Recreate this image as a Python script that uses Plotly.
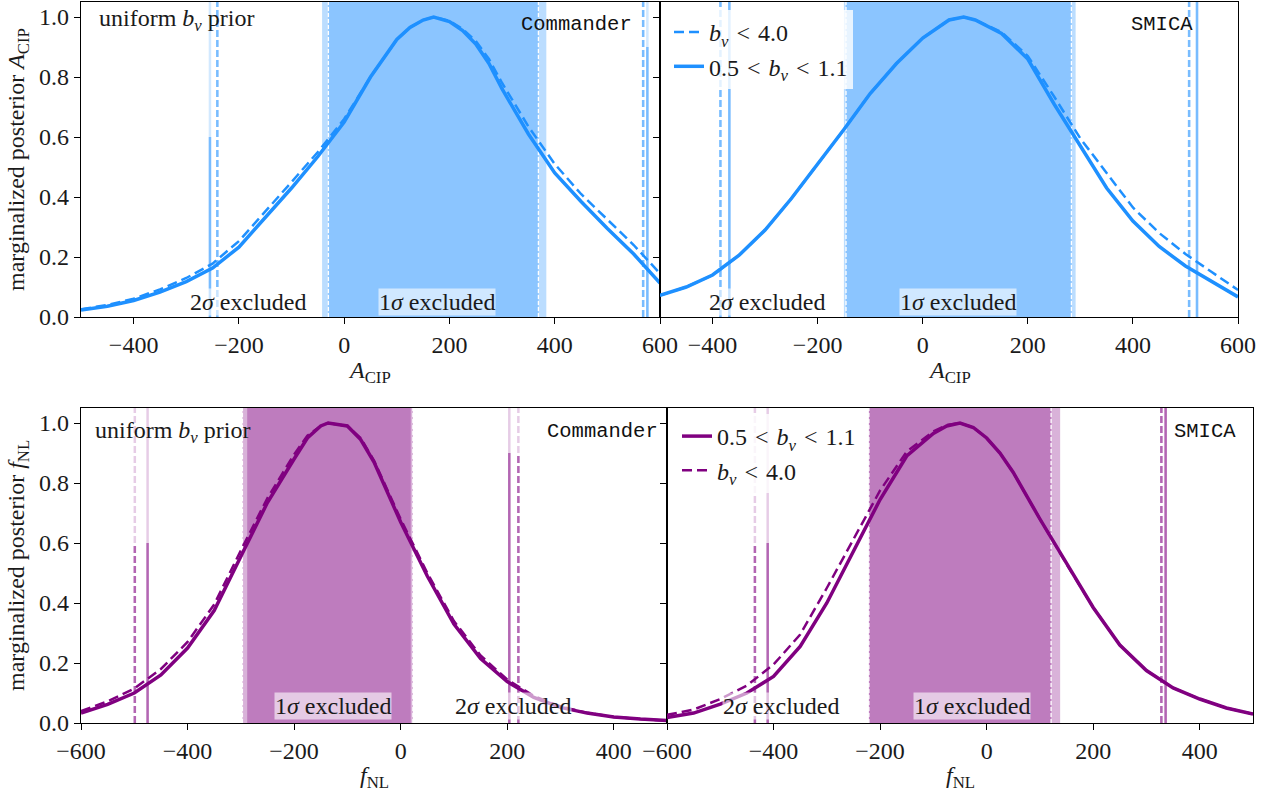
import plotly.graph_objects as go

# ---------------- data ----------------
# Top-left: A_CIP, Commander
TL_x = [-500, -450, -400, -350, -300, -250, -200, -150, -100, -50, 0, 50, 100, 125, 150, 170, 200, 225, 250, 275, 300, 350, 400, 450, 500, 550, 600]
TL_solid = [0.023, 0.036, 0.055, 0.083, 0.118, 0.163, 0.233, 0.33, 0.43, 0.535, 0.65, 0.80, 0.925, 0.965, 0.99, 1.0, 0.985, 0.955, 0.91, 0.845, 0.76, 0.61, 0.48, 0.385, 0.295, 0.21, 0.113]
TL_dashed = [0.026, 0.040, 0.061, 0.092, 0.13, 0.178, 0.253, 0.35, 0.45, 0.55, 0.66, 0.80, 0.925, 0.965, 0.99, 1.0, 0.987, 0.96, 0.92, 0.86, 0.78, 0.635, 0.51, 0.41, 0.325, 0.24, 0.145]

# Top-right: A_CIP, SMICA
TR_x = [-500, -450, -400, -350, -300, -250, -200, -150, -100, -50, 0, 50, 78, 100, 150, 200, 250, 300, 350, 400, 450, 500, 550, 600]
TR_solid = [0.072, 0.10, 0.14, 0.205, 0.29, 0.395, 0.51, 0.625, 0.745, 0.845, 0.93, 0.99, 1.0, 0.99, 0.945, 0.86, 0.71, 0.57, 0.43, 0.32, 0.235, 0.17, 0.12, 0.067]
TR_dashed = [0.072, 0.10, 0.14, 0.205, 0.29, 0.395, 0.51, 0.625, 0.745, 0.845, 0.93, 0.99, 1.0, 0.99, 0.95, 0.87, 0.735, 0.595, 0.48, 0.365, 0.28, 0.21, 0.15, 0.09]

# Bottom-left: f_NL, Commander
BL_x = [-600, -550, -500, -450, -400, -350, -300, -250, -200, -175, -150, -136, -100, -75, -50, 0, 50, 100, 150, 200, 250, 300, 350, 400, 450, 500]
BL_solid = [0.033, 0.062, 0.10, 0.16, 0.25, 0.375, 0.555, 0.735, 0.88, 0.95, 0.99, 1.0, 0.99, 0.945, 0.87, 0.67, 0.49, 0.33, 0.215, 0.138, 0.085, 0.052, 0.033, 0.02, 0.013, 0.008]
BL_dashed = [0.04, 0.072, 0.115, 0.18, 0.27, 0.395, 0.575, 0.75, 0.895, 0.958, 0.99, 1.0, 0.99, 0.95, 0.875, 0.68, 0.50, 0.34, 0.225, 0.145, 0.09, 0.055, 0.034, 0.02, 0.013, 0.008]

# Bottom-right: f_NL, SMICA
BR_x = [-600, -550, -500, -450, -400, -350, -300, -250, -200, -150, -100, -75, -50, -25, 0, 25, 50, 100, 150, 200, 250, 300, 350, 400, 450, 500]
BR_solid = [0.018, 0.033, 0.063, 0.10, 0.155, 0.255, 0.40, 0.57, 0.745, 0.89, 0.965, 0.99, 1.0, 0.985, 0.95, 0.90, 0.835, 0.68, 0.53, 0.385, 0.26, 0.175, 0.117, 0.08, 0.05, 0.03]
BR_dashed = [0.027, 0.045, 0.08, 0.125, 0.195, 0.295, 0.45, 0.61, 0.775, 0.905, 0.972, 0.993, 1.0, 0.985, 0.95, 0.90, 0.835, 0.68, 0.53, 0.385, 0.26, 0.175, 0.117, 0.08, 0.05, 0.03]

# 1-sigma excluded bands  [lo, hi]
TL_band_solid = [-42, 384]
TL_band_dashed = [-30, 369]
TR_band_solid = [-150, 291]
TR_band_dashed = [-146, 283]
BL_band_solid = [-288, 19]
BL_band_dashed = [-297, 23]
BR_band_solid = [-221, 138]
BR_band_dashed = [-221, 121]

# 2-sigma marker lines (positions and heights of darker part)
TL_sig2_solid = [-255, 576]
TL_sig2_solid_h = [0.6, 0.9]
TL_sig2_dashed = [-241, 568]
TL_sig2_dashed_h = [1.05, 1.05]
TR_sig2_solid = [-368, 522]
TR_sig2_solid_h = [1.05, 1.05]
TR_sig2_dashed = [-385, 507]
TR_sig2_dashed_h = [1.05, 1.05]
BL_sig2_solid = [-475, 204]
BL_sig2_solid_h = [0.6, 0.9]
BL_sig2_dashed = [-499, 221]
BL_sig2_dashed_h = [0.6, 0.9]
BR_sig2_solid = [-411, 336]
BR_sig2_solid_h = [0.6, 1.05]
BR_sig2_dashed = [-435, 328]
BR_sig2_dashed_h = [0.6, 1.05]

# label positions (data x)
TL_lab = [-182, 177]
TR_lab = [-296, 68]
BL_lab = [211, -127]
BR_lab = [-386, -27]

TOP_XTICKS = [-400, -200, 0, 200, 400, 600]
BOT_XTICKS = [-600, -400, -200, 0, 200, 400]
YTICKS = [0.0, 0.2, 0.4, 0.6, 0.8, 1.0]

BLUE = (30, 144, 255)
PURPLE = (128, 0, 128)
FONT = "Liberation Serif"
MONO = "Liberation Mono"
FS = 24
W, H = 1282, 798
TXT = "#1a1a1a"


def rgba(c, a):
    return "rgba(%d,%d,%d,%s)" % (c[0], c[1], c[2], a)


fig = go.Figure()

BV = "<i>b</i><sub><i>v</i></sub>"
LT = "\u2004&lt;\u2004"
NAME_D = BV + LT + "4.0"
NAME_S = "0.5" + LT + BV + LT + "1.1"

panels = [
    dict(k="", col=BLUE, x=TL_x, s=TL_solid, d=TL_dashed, bs=TL_band_solid, bd=TL_band_dashed,
         ls=TL_sig2_solid, lsh=TL_sig2_solid_h, ld=TL_sig2_dashed, ldh=TL_sig2_dashed_h,
         legend=None, order="ds"),
    dict(k="2", col=BLUE, x=TR_x, s=TR_solid, d=TR_dashed, bs=TR_band_solid, bd=TR_band_dashed,
         ls=TR_sig2_solid, lsh=TR_sig2_solid_h, ld=TR_sig2_dashed, ldh=TR_sig2_dashed_h,
         legend="legend", order="ds"),
    dict(k="3", col=PURPLE, x=BL_x, s=BL_solid, d=BL_dashed, bs=BL_band_solid, bd=BL_band_dashed,
         ls=BL_sig2_solid, lsh=BL_sig2_solid_h, ld=BL_sig2_dashed, ldh=BL_sig2_dashed_h,
         legend=None, order="sd"),
    dict(k="4", col=PURPLE, x=BR_x, s=BR_solid, d=BR_dashed, bs=BR_band_solid, bd=BR_band_dashed,
         ls=BR_sig2_solid, lsh=BR_sig2_solid_h, ld=BR_sig2_dashed, ldh=BR_sig2_dashed_h,
         legend="legend2", order="sd"),
]

YTOP = 1.05
shapes = []
annotations = []
for p in panels:
    xa = "x" + p["k"]
    ya = "y" + p["k"]
    col = p["col"]
    # 1-sigma bands
    for b in (p["bs"], p["bd"]):
        shapes.append(dict(type="rect", xref=xa, yref=ya + " domain", x0=b[0], x1=b[1], y0=0, y1=1,
                           fillcolor=rgba(col, 0.3), line=dict(width=0), layer="below"))
    for xv in p["bd"]:
        shapes.append(dict(type="line", xref=xa, yref=ya + " domain", x0=xv, x1=xv, y0=0, y1=1,
                           line=dict(color="white", width=1.3, dash="4px,2px"), layer="below"))
    # 2-sigma lines
    for pos, hts, dash in ((p["ls"], p["lsh"], "solid"), (p["ld"], p["ldh"], "7px,3px")):
        for xv, hv in zip(pos, hts):
            fig.add_trace(go.Scatter(x=[xv, xv], y=[0, YTOP], mode="lines", xaxis=xa, yaxis=ya,
                                     line=dict(color=rgba(col, 0.2), width=2.5, dash=dash),
                                     showlegend=False, hoverinfo="skip"))
            fig.add_trace(go.Scatter(x=[xv, xv], y=[0, hv], mode="lines", xaxis=xa, yaxis=ya,
                                     line=dict(color=rgba(col, 0.5), width=2.5, dash=dash),
                                     showlegend=False, hoverinfo="skip"))
    # curves
    solid_tr = go.Scatter(x=p["x"], y=p["s"], mode="lines", xaxis=xa, yaxis=ya, name=NAME_S,
                          line=dict(color=rgba(col, 1), width=3.5),
                          showlegend=p["legend"] is not None, legend=p["legend"] or "legend")
    dashed_tr = go.Scatter(x=p["x"], y=p["d"], mode="lines", xaxis=xa, yaxis=ya, name=NAME_D,
                           line=dict(color=rgba(col, 1), width=2.5, dash="10px,5px"),
                           showlegend=p["legend"] is not None, legend=p["legend"] or "legend")
    if p["order"] == "ds":
        fig.add_trace(dashed_tr)
        fig.add_trace(solid_tr)
    else:
        fig.add_trace(solid_tr)
        fig.add_trace(dashed_tr)

# labels for excluded regions
lab_y_top = 0.05
lab_y_bot = 0.057
lab_specs = [("", TL_lab, ["2<i>σ</i> excluded", "1<i>σ</i> excluded"], lab_y_top),
             ("2", TR_lab, ["2<i>σ</i> excluded", "1<i>σ</i> excluded"], lab_y_top),
             ("3", BL_lab, ["2<i>σ</i> excluded", "1<i>σ</i> excluded"], lab_y_bot),
             ("4", BR_lab, ["2<i>σ</i> excluded", "1<i>σ</i> excluded"], lab_y_bot)]
for k, xs, texts, yv in lab_specs:
    for xv, t in zip(xs, texts):
        annotations.append(dict(xref="x" + k, yref="y" + k, x=xv, y=yv, text=t, showarrow=False,
                                font=dict(family=FONT, size=FS, color=TXT),
                                bgcolor="rgba(255,255,255,0.6)", borderpad=0,
                                xanchor="center", yanchor="middle"))

UNI = "uniform " + BV + " prior"
annotations += [
    dict(xref="x domain", yref="y domain", x=0.027, y=0.943, text=UNI, showarrow=False,
         xanchor="left", yanchor="middle", font=dict(family=FONT, size=FS, color=TXT)),
    dict(xref="x3 domain", yref="y3 domain", x=0.02, y=0.924, text=UNI, showarrow=False,
         xanchor="left", yanchor="middle", font=dict(family=FONT, size=FS, color=TXT)),
    dict(xref="x domain", yref="y domain", x=0.955, y=0.927, text="Commander", showarrow=False,
         xanchor="right", yanchor="middle", font=dict(family=MONO, size=20.5, color="#111")),
    dict(xref="x3 domain", yref="y3 domain", x=0.988, y=0.924, text="Commander", showarrow=False,
         xanchor="right", yanchor="middle", font=dict(family=MONO, size=20.5, color="#111")),
    dict(xref="x2 domain", yref="y2 domain", x=0.926, y=0.927, text="SMICA", showarrow=False,
         xanchor="right", yanchor="middle", font=dict(family=MONO, size=20.5, color="#111")),
    dict(xref="x4 domain", yref="y4 domain", x=0.975, y=0.924, text="SMICA", showarrow=False,
         xanchor="right", yanchor="middle", font=dict(family=MONO, size=20.5, color="#111")),
]

# axis titles as annotations (paper coords)
TITLE_A = "<i>A</i><sub>CIP</sub>"
TITLE_F = "<i>f</i><sub>NL</sub>"
YT_A = "marginalized posterior <i>A</i><sub>CIP</sub>"
YT_F = "marginalized posterior <i>f</i><sub>NL</sub>"
for xc, yc, t in ((370, 372, TITLE_A), (949, 372, TITLE_A), (374, 777, TITLE_F), (960, 777, TITLE_F)):
    annotations.append(dict(xref="paper", yref="paper", x=xc / W, y=1 - yc / H, text=t, showarrow=False,
                            xanchor="center", yanchor="middle", font=dict(family=FONT, size=FS, color=TXT)))
for yc, t in ((160, YT_A), (566, YT_F)):
    annotations.append(dict(xref="paper", yref="paper", x=18 / W, y=1 - yc / H, text=t, showarrow=False,
                            textangle=-90, xanchor="center", yanchor="middle",
                            font=dict(family=FONT, size=FS, color=TXT)))

# ---------------- axes ----------------
def px_x(a, b):
    return [a / W, b / W]


def px_y(top, bot):
    return [1 - bot / H, 1 - top / H]


axis_common = dict(showline=True, mirror=True, linecolor="black", linewidth=1.2,
                   ticks="outside", ticklen=6, tickwidth=1.2, tickcolor="black",
                   showgrid=False, zeroline=False, automargin=False,
                   tickfont=dict(family=FONT, size=FS, color=TXT))

layout = dict(
    width=W, height=H, autosize=False,
    margin=dict(l=0, r=0, t=0, b=0, autoexpand=False),
    paper_bgcolor="white", plot_bgcolor="white",
    font=dict(family=FONT, size=FS, color=TXT),
    shapes=shapes, annotations=annotations,
    xaxis=dict(domain=px_x(81, 660), range=[-500, 600], tickvals=TOP_XTICKS, anchor="y", **axis_common),
    yaxis=dict(domain=px_y(2, 317), range=[0, YTOP], tickvals=YTICKS, tickformat=".1f", anchor="x", **axis_common),
    xaxis2=dict(domain=px_x(660, 1238), range=[-500, 600], tickvals=TOP_XTICKS, anchor="y2", **axis_common),
    yaxis2=dict(domain=px_y(2, 317), range=[0, YTOP], tickvals=YTICKS, anchor="x2",
                showticklabels=False, **axis_common),
    xaxis3=dict(domain=px_x(81, 667), range=[-600, 500], tickvals=BOT_XTICKS, anchor="y3", **axis_common),
    yaxis3=dict(domain=px_y(408, 723), range=[0, YTOP], tickvals=YTICKS, tickformat=".1f", anchor="x3", **axis_common),
    xaxis4=dict(domain=px_x(667, 1253), range=[-600, 500], tickvals=BOT_XTICKS, anchor="y4", **axis_common),
    yaxis4=dict(domain=px_y(408, 723), range=[0, YTOP], tickvals=YTICKS, anchor="x4",
                showticklabels=False, **axis_common),
    legend=dict(x=669 / W, y=1 - 10 / H, xanchor="left", yanchor="top",
                bgcolor="rgba(255,255,255,0.8)", borderwidth=0, itemwidth=30,
                font=dict(family=FONT, size=FS, color=TXT), tracegroupgap=0),
    legend2=dict(x=677 / W, y=1 - 414 / H, xanchor="left", yanchor="top",
                 bgcolor="rgba(255,255,255,0.8)", borderwidth=0, itemwidth=30,
                 font=dict(family=FONT, size=FS, color=TXT), tracegroupgap=0),
    showlegend=True,
)
fig.update_layout(**layout)
fig.write_html("out.html")
